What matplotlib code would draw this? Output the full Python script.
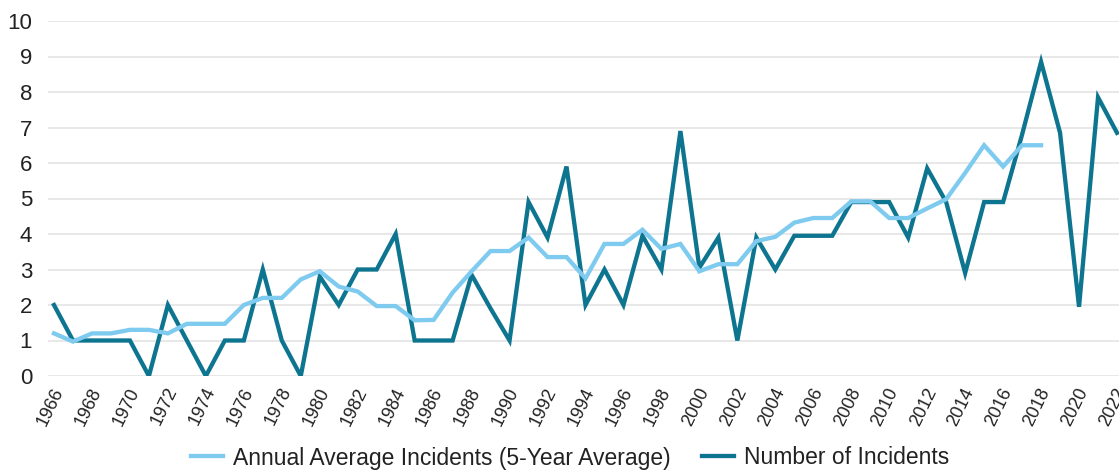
import matplotlib
matplotlib.use("Agg")
import matplotlib.pyplot as plt
from matplotlib.transforms import ScaledTranslation

plt.rcParams['font.family'] = ['Liberation Sans', 'DejaVu Sans']

years = list(range(1966, 2023))
incidents = [2, 1, 1, 1, 1, 0, 2, 1, 0, 1, 1, 3, 1, 0, 2.8, 2, 3, 3, 4, 1,
             1, 1, 2.85, 1.9, 1, 4.9, 3.9, 5.9, 2, 3, 2, 3.95, 3, 6.9, 3.05, 3.9,
             1, 3.9, 3, 3.95, 3.95, 3.95, 4.9, 4.9, 4.9, 3.9, 5.85, 4.9, 2.9, 4.9,
             4.9, 6.8, 8.85, 6.85, 1.95, 7.85, 6.85]
avg_years = list(range(1966, 2019))
avg5 = [1.2, 0.97, 1.2, 1.2, 1.3, 1.3, 1.2, 1.47, 1.47, 1.47, 2.0, 2.2, 2.2,
        2.72, 2.95, 2.52, 2.38, 1.97, 1.97, 1.57, 1.58, 2.35, 2.95, 3.52, 3.52,
        3.9, 3.35, 3.35, 2.75, 3.72, 3.72, 4.12, 3.58, 3.72, 2.95, 3.15, 3.15,
        3.8, 3.92, 4.32, 4.45, 4.45, 4.92, 4.92, 4.45, 4.45, 4.72, 4.98, 5.72,
        6.5, 5.9, 6.5, 6.5]

light = '#7ECBEF'
dark = '#0E7590'
text_color = '#222222'

fig = plt.figure(figsize=(11.19, 4.72), dpi=100)
ax = fig.add_axes([48/1119, 1 - 376/472, 1 - 48/1119, (376 - 21)/472])

ax.plot(avg_years, avg5, color=light, lw=3.1, solid_joinstyle='miter',
        label='Annual Average Incidents (5-Year Average)', zorder=3)
ax.plot(years, incidents, color=dark, lw=3.1, solid_joinstyle='miter',
        label='Number of Incidents', zorder=2)

ax.set_ylim(0, 10)
ax.set_xlim(1966 - 6/19, 2022 + 2/19)
ax.set_yticks(range(0, 11))
ax.set_xticks(list(range(1966, 2023, 2)))
ax.set_xticklabels([str(y) for y in range(1966, 2023, 2)], rotation=64,
                   ha='right', va='center', rotation_mode='anchor')
ax.tick_params(axis='both', length=0, colors=text_color)
ax.tick_params(axis='y', pad=11.5, labelsize=16)
ax.tick_params(axis='x', pad=9, labelsize=13)
shift = ScaledTranslation(5/100, 0, fig.dpi_scale_trans)
for lab in ax.get_xticklabels():
    lab.set_transform(lab.get_transform() + shift)
ax.grid(axis='y', color='#E6E6E6', lw=1.3)
ax.set_axisbelow(True)
for s in ax.spines.values():
    s.set_visible(False)

handles, labels = ax.get_legend_handles_labels()
fig.legend(handles, labels, loc='center', bbox_to_anchor=(570/1119, 1 - 458/472),
           ncol=2, frameon=False, fontsize=16.5, handlelength=1.4, handletextpad=0.45,
           columnspacing=1.35, labelcolor=text_color, borderaxespad=0, borderpad=0)

fig.savefig('out.png', dpi=100)
